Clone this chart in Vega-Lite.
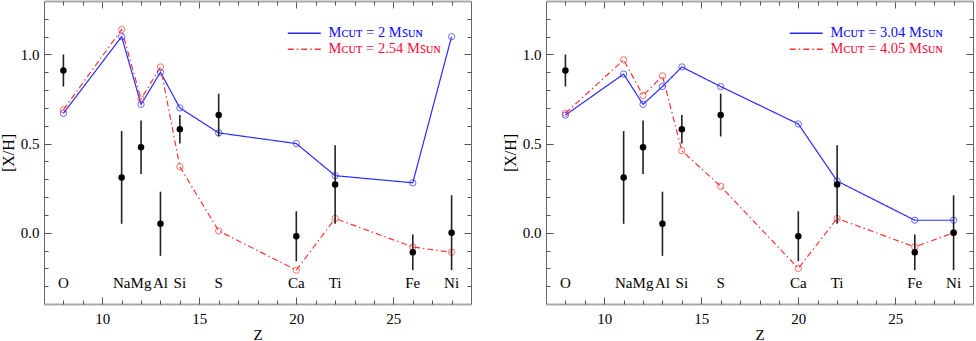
{
  "$schema": "https://vega.github.io/schema/vega-lite/v6.json",
  "padding": 0,
  "background": "white",
  "config": {
    "view": {"stroke": null},
    "font": "Liberation Serif",
    "axis": {"labelFont": "Liberation Serif", "titleFont": "Liberation Serif", "labelColor": "black", "titleColor": "black", "labelFontSize": 15, "titleFontSize": 16, "titleFontWeight": "normal", "grid": false, "tickColor": "#555", "tickWidth": 1},
    "legend": {"labelFont": "Liberation Serif", "labelFontSize": 14.5, "padding": 0}
  },
  "datasets": {
    "obs": [
      {"el": "O", "Z": 8, "XH": 0.91, "lo": 0.82, "hi": 1.0},
      {"el": "Na", "Z": 11, "XH": 0.31, "lo": 0.05, "hi": 0.57},
      {"el": "Mg", "Z": 12, "XH": 0.48, "lo": 0.33, "hi": 0.63},
      {"el": "Al", "Z": 13, "XH": 0.05, "lo": -0.13, "hi": 0.23},
      {"el": "Si", "Z": 14, "XH": 0.58, "lo": 0.5, "hi": 0.66},
      {"el": "S", "Z": 16, "XH": 0.66, "lo": 0.54, "hi": 0.78},
      {"el": "Ca", "Z": 20, "XH": -0.02, "lo": -0.16, "hi": 0.12},
      {"el": "Ti", "Z": 22, "XH": 0.27, "lo": 0.05, "hi": 0.49},
      {"el": "Fe", "Z": 26, "XH": -0.11, "lo": -0.21, "hi": -0.01},
      {"el": "Ni", "Z": 28, "XH": 0.0, "lo": -0.21, "hi": 0.21}
    ],
    "model": [
      {"panel": "L", "model": "Mᴄᴜᴛ = 2 Mꜱᴜɴ", "Z": 8, "XH": 0.67},
      {"panel": "L", "model": "Mᴄᴜᴛ = 2 Mꜱᴜɴ", "Z": 11, "XH": 1.10},
      {"panel": "L", "model": "Mᴄᴜᴛ = 2 Mꜱᴜɴ", "Z": 12, "XH": 0.72},
      {"panel": "L", "model": "Mᴄᴜᴛ = 2 Mꜱᴜɴ", "Z": 13, "XH": 0.90},
      {"panel": "L", "model": "Mᴄᴜᴛ = 2 Mꜱᴜɴ", "Z": 14, "XH": 0.70},
      {"panel": "L", "model": "Mᴄᴜᴛ = 2 Mꜱᴜɴ", "Z": 16, "XH": 0.56},
      {"panel": "L", "model": "Mᴄᴜᴛ = 2 Mꜱᴜɴ", "Z": 20, "XH": 0.50},
      {"panel": "L", "model": "Mᴄᴜᴛ = 2 Mꜱᴜɴ", "Z": 22, "XH": 0.32},
      {"panel": "L", "model": "Mᴄᴜᴛ = 2 Mꜱᴜɴ", "Z": 26, "XH": 0.28},
      {"panel": "L", "model": "Mᴄᴜᴛ = 2 Mꜱᴜɴ", "Z": 28, "XH": 1.10},
      {"panel": "L", "model": "Mᴄᴜᴛ = 2.54 Mꜱᴜɴ", "Z": 8, "XH": 0.69},
      {"panel": "L", "model": "Mᴄᴜᴛ = 2.54 Mꜱᴜɴ", "Z": 11, "XH": 1.14},
      {"panel": "L", "model": "Mᴄᴜᴛ = 2.54 Mꜱᴜɴ", "Z": 12, "XH": 0.75},
      {"panel": "L", "model": "Mᴄᴜᴛ = 2.54 Mꜱᴜɴ", "Z": 13, "XH": 0.93},
      {"panel": "L", "model": "Mᴄᴜᴛ = 2.54 Mꜱᴜɴ", "Z": 14, "XH": 0.37},
      {"panel": "L", "model": "Mᴄᴜᴛ = 2.54 Mꜱᴜɴ", "Z": 16, "XH": 0.01},
      {"panel": "L", "model": "Mᴄᴜᴛ = 2.54 Mꜱᴜɴ", "Z": 20, "XH": -0.21},
      {"panel": "L", "model": "Mᴄᴜᴛ = 2.54 Mꜱᴜɴ", "Z": 22, "XH": 0.08},
      {"panel": "L", "model": "Mᴄᴜᴛ = 2.54 Mꜱᴜɴ", "Z": 26, "XH": -0.08},
      {"panel": "L", "model": "Mᴄᴜᴛ = 2.54 Mꜱᴜɴ", "Z": 28, "XH": -0.11},
      {"panel": "R", "model": "Mᴄᴜᴛ = 3.04 Mꜱᴜɴ", "Z": 8, "XH": 0.66},
      {"panel": "R", "model": "Mᴄᴜᴛ = 3.04 Mꜱᴜɴ", "Z": 11, "XH": 0.89},
      {"panel": "R", "model": "Mᴄᴜᴛ = 3.04 Mꜱᴜɴ", "Z": 12, "XH": 0.72},
      {"panel": "R", "model": "Mᴄᴜᴛ = 3.04 Mꜱᴜɴ", "Z": 13, "XH": 0.82},
      {"panel": "R", "model": "Mᴄᴜᴛ = 3.04 Mꜱᴜɴ", "Z": 14, "XH": 0.93},
      {"panel": "R", "model": "Mᴄᴜᴛ = 3.04 Mꜱᴜɴ", "Z": 16, "XH": 0.82},
      {"panel": "R", "model": "Mᴄᴜᴛ = 3.04 Mꜱᴜɴ", "Z": 20, "XH": 0.61},
      {"panel": "R", "model": "Mᴄᴜᴛ = 3.04 Mꜱᴜɴ", "Z": 22, "XH": 0.29},
      {"panel": "R", "model": "Mᴄᴜᴛ = 3.04 Mꜱᴜɴ", "Z": 26, "XH": 0.07},
      {"panel": "R", "model": "Mᴄᴜᴛ = 3.04 Mꜱᴜɴ", "Z": 28, "XH": 0.07},
      {"panel": "R", "model": "Mᴄᴜᴛ = 4.05 Mꜱᴜɴ", "Z": 8, "XH": 0.67},
      {"panel": "R", "model": "Mᴄᴜᴛ = 4.05 Mꜱᴜɴ", "Z": 11, "XH": 0.97},
      {"panel": "R", "model": "Mᴄᴜᴛ = 4.05 Mꜱᴜɴ", "Z": 12, "XH": 0.77},
      {"panel": "R", "model": "Mᴄᴜᴛ = 4.05 Mꜱᴜɴ", "Z": 13, "XH": 0.88},
      {"panel": "R", "model": "Mᴄᴜᴛ = 4.05 Mꜱᴜɴ", "Z": 14, "XH": 0.46},
      {"panel": "R", "model": "Mᴄᴜᴛ = 4.05 Mꜱᴜɴ", "Z": 16, "XH": 0.26},
      {"panel": "R", "model": "Mᴄᴜᴛ = 4.05 Mꜱᴜɴ", "Z": 20, "XH": -0.20},
      {"panel": "R", "model": "Mᴄᴜᴛ = 4.05 Mꜱᴜɴ", "Z": 22, "XH": 0.08},
      {"panel": "R", "model": "Mᴄᴜᴛ = 4.05 Mꜱᴜɴ", "Z": 26, "XH": -0.08},
      {"panel": "R", "model": "Mᴄᴜᴛ = 4.05 Mꜱᴜɴ", "Z": 28, "XH": 0.00}
    ]
  },
  "spacing": 30,
  "resolve": {"scale": {"color": "independent", "strokeDash": "independent", "stroke": "independent"}, "legend": {"color": "independent", "strokeDash": "independent"}},
  "hconcat": [
    {
      "width": 427,
      "height": 303,
      "resolve": {"axis": {"x": "independent", "y": "independent"}},
      "layer": [
        {
          "data": {"name": "model"},
          "transform": [{"filter": "datum.panel == 'L'"}],
          "mark": {"type": "line", "strokeWidth": 1.2},
          "encoding": {
            "x": {"field": "Z", "type": "quantitative", "scale": {"domain": [7, 29], "nice": false, "zero": false},
              "axis": {"orient": "bottom", "values": [10, 15, 20, 25], "ticks": false, "domain": true, "domainColor": "#aaa", "domainWidth": 2, "labelPadding": 7, "title": "Z", "titlePadding": 1, "titleFontSize": 15}},
            "y": {"field": "XH", "type": "quantitative", "scale": {"domain": [-0.4, 1.3], "nice": false, "zero": false},
              "axis": {"orient": "left", "values": [0, 0.5, 1], "format": ".1f", "ticks": false, "domain": true, "domainColor": "#666", "domainWidth": 1, "labelPadding": 5, "title": "[X/H]", "titlePadding": 4}},
            "color": {"field": "model", "type": "nominal",
              "scale": {"domain": ["Mᴄᴜᴛ = 2 Mꜱᴜɴ", "Mᴄᴜᴛ = 2.54 Mꜱᴜɴ"], "range": ["#2a2aff", "#ff3535"]},
              "legend": {"title": null, "orient": "none", "legendX": 253, "legendY": 25, "symbolType": "M-3,0H3", "symbolSize": 121, "symbolStrokeWidth": 1.5, "labelOffset": 17, "rowPadding": 1, "labelFont": "Liberation Serif", "labelFontSize": 14.5, "labelColor": {"expr": "datum.index == 0 ? '#0d0dff' : '#ff0d3d'"}}},
            "strokeDash": {"field": "model", "type": "nominal",
              "scale": {"domain": ["Mᴄᴜᴛ = 2 Mꜱᴜɴ", "Mᴄᴜᴛ = 2.54 Mꜱᴜɴ"], "range": [[1, 0], [6, 3, 1.5, 3]]},
              "legend": {"title": null, "orient": "none", "legendX": 253, "legendY": 25, "symbolType": "M-3,0H3", "symbolSize": 121, "symbolStrokeWidth": 1.5, "labelOffset": 17, "rowPadding": 1, "labelFont": "Liberation Serif", "labelFontSize": 14.5, "labelColor": {"expr": "datum.index == 0 ? '#0d0dff' : '#ff0d3d'"}}}
          }
        },
        {
          "data": {"name": "model"},
          "transform": [{"filter": "datum.panel == 'L'"}],
          "mark": {"type": "point", "filled": false, "size": 40, "strokeWidth": 1},
          "encoding": {
            "x": {"field": "Z", "type": "quantitative", "scale": {"domain": [7, 29], "nice": false, "zero": false},
              "axis": {"orient": "bottom", "values": [10, 15, 20, 25], "labels": false, "domain": false, "tickSize": -7, "title": null}},
            "y": {"field": "XH", "type": "quantitative", "scale": {"domain": [-0.4, 1.3], "nice": false, "zero": false},
              "axis": {"orient": "left", "values": [0, 0.5, 1], "labels": false, "domain": false, "tickSize": -7, "title": null}},
            "stroke": {"field": "model", "type": "nominal",
              "scale": {"domain": ["Mᴄᴜᴛ = 2 Mꜱᴜɴ", "Mᴄᴜᴛ = 2.54 Mꜱᴜɴ"], "range": ["#2a2aff", "#ff3535"]}, "legend": null}
          }
        },
        {
          "data": {"name": "obs"},
          "mark": {"type": "rule", "color": "#222", "strokeWidth": 1.6},
          "encoding": {
            "x": {"field": "Z", "type": "quantitative", "scale": {"domain": [7, 29], "nice": false, "zero": false},
              "axis": {"orient": "bottom", "values": [8, 9, 11, 12, 13, 14, 16, 17, 18, 19, 21, 22, 23, 24, 26, 27, 28], "labels": false, "domain": false, "tickSize": -4, "title": null}},
            "y": {"field": "lo", "type": "quantitative", "scale": {"domain": [-0.4, 1.3], "nice": false, "zero": false},
              "axis": {"orient": "left", "values": [-0.3, -0.2, -0.1, 0.1, 0.2, 0.3, 0.4, 0.6, 0.7, 0.8, 0.9, 1.1, 1.2], "labels": false, "domain": false, "tickSize": -4, "title": null}},
            "y2": {"field": "hi"}
          }
        },
        {
          "data": {"name": "obs"},
          "mark": {"type": "circle", "color": "black", "size": 42, "opacity": 1},
          "encoding": {
            "x": {"field": "Z", "type": "quantitative", "scale": {"domain": [7, 29], "nice": false, "zero": false},
              "axis": {"orient": "top", "values": [10, 15, 20, 25], "labels": false, "domain": true, "domainColor": "#aaa", "domainWidth": 2, "tickSize": -7, "title": null}},
            "y": {"field": "XH", "type": "quantitative", "scale": {"domain": [-0.4, 1.3], "nice": false, "zero": false},
              "axis": {"orient": "right", "values": [0, 0.5, 1], "labels": false, "domain": true, "domainColor": "#666", "domainWidth": 1, "tickSize": -7, "title": null}}
          }
        },
        {
          "data": {"name": "obs"},
          "mark": {"type": "text", "font": "Liberation Serif", "fontSize": 15, "color": "black", "baseline": "middle", "align": "center"},
          "encoding": {
            "x": {"field": "Z", "type": "quantitative", "scale": {"domain": [7, 29], "nice": false, "zero": false},
              "axis": {"orient": "top", "values": [8, 9, 11, 12, 13, 14, 16, 17, 18, 19, 21, 22, 23, 24, 26, 27, 28], "labels": false, "domain": false, "tickSize": -4, "title": null}},
            "y": {"datum": -0.28, "type": "quantitative", "scale": {"domain": [-0.4, 1.3], "nice": false, "zero": false},
              "axis": {"orient": "right", "values": [-0.3, -0.2, -0.1, 0.1, 0.2, 0.3, 0.4, 0.6, 0.7, 0.8, 0.9, 1.1, 1.2], "labels": false, "domain": false, "tickSize": -4, "title": null}},
            "text": {"field": "el"}
          }
        }
      ]
    },
    {
      "width": 427,
      "height": 303,
      "resolve": {"axis": {"x": "independent", "y": "independent"}},
      "layer": [
        {
          "data": {"name": "model"},
          "transform": [{"filter": "datum.panel == 'R'"}],
          "mark": {"type": "line", "strokeWidth": 1.2},
          "encoding": {
            "x": {"field": "Z", "type": "quantitative", "scale": {"domain": [7, 29], "nice": false, "zero": false},
              "axis": {"orient": "bottom", "values": [10, 15, 20, 25], "ticks": false, "domain": true, "domainColor": "#aaa", "domainWidth": 2, "labelPadding": 7, "title": "Z", "titlePadding": 1, "titleFontSize": 15}},
            "y": {"field": "XH", "type": "quantitative", "scale": {"domain": [-0.4, 1.3], "nice": false, "zero": false},
              "axis": {"orient": "left", "values": [0, 0.5, 1], "format": ".1f", "ticks": false, "domain": true, "domainColor": "#666", "domainWidth": 1, "labelPadding": 5, "title": "[X/H]", "titlePadding": 4}},
            "color": {"field": "model", "type": "nominal",
              "scale": {"domain": ["Mᴄᴜᴛ = 3.04 Mꜱᴜɴ", "Mᴄᴜᴛ = 4.05 Mꜱᴜɴ"], "range": ["#2a2aff", "#ff3535"]},
              "legend": {"title": null, "orient": "none", "legendX": 253, "legendY": 25, "symbolType": "M-3,0H3", "symbolSize": 121, "symbolStrokeWidth": 1.5, "labelOffset": 17, "rowPadding": 1, "labelFont": "Liberation Serif", "labelFontSize": 14.5, "labelColor": {"expr": "datum.index == 0 ? '#0d0dff' : '#ff0d3d'"}}},
            "strokeDash": {"field": "model", "type": "nominal",
              "scale": {"domain": ["Mᴄᴜᴛ = 3.04 Mꜱᴜɴ", "Mᴄᴜᴛ = 4.05 Mꜱᴜɴ"], "range": [[1, 0], [6, 3, 1.5, 3]]},
              "legend": {"title": null, "orient": "none", "legendX": 253, "legendY": 25, "symbolType": "M-3,0H3", "symbolSize": 121, "symbolStrokeWidth": 1.5, "labelOffset": 17, "rowPadding": 1, "labelFont": "Liberation Serif", "labelFontSize": 14.5, "labelColor": {"expr": "datum.index == 0 ? '#0d0dff' : '#ff0d3d'"}}}
          }
        },
        {
          "data": {"name": "model"},
          "transform": [{"filter": "datum.panel == 'R'"}],
          "mark": {"type": "point", "filled": false, "size": 40, "strokeWidth": 1},
          "encoding": {
            "x": {"field": "Z", "type": "quantitative", "scale": {"domain": [7, 29], "nice": false, "zero": false},
              "axis": {"orient": "bottom", "values": [10, 15, 20, 25], "labels": false, "domain": false, "tickSize": -7, "title": null}},
            "y": {"field": "XH", "type": "quantitative", "scale": {"domain": [-0.4, 1.3], "nice": false, "zero": false},
              "axis": {"orient": "left", "values": [0, 0.5, 1], "labels": false, "domain": false, "tickSize": -7, "title": null}},
            "stroke": {"field": "model", "type": "nominal",
              "scale": {"domain": ["Mᴄᴜᴛ = 3.04 Mꜱᴜɴ", "Mᴄᴜᴛ = 4.05 Mꜱᴜɴ"], "range": ["#2a2aff", "#ff3535"]}, "legend": null}
          }
        },
        {
          "data": {"name": "obs"},
          "mark": {"type": "rule", "color": "#222", "strokeWidth": 1.6},
          "encoding": {
            "x": {"field": "Z", "type": "quantitative", "scale": {"domain": [7, 29], "nice": false, "zero": false},
              "axis": {"orient": "bottom", "values": [8, 9, 11, 12, 13, 14, 16, 17, 18, 19, 21, 22, 23, 24, 26, 27, 28], "labels": false, "domain": false, "tickSize": -4, "title": null}},
            "y": {"field": "lo", "type": "quantitative", "scale": {"domain": [-0.4, 1.3], "nice": false, "zero": false},
              "axis": {"orient": "left", "values": [-0.3, -0.2, -0.1, 0.1, 0.2, 0.3, 0.4, 0.6, 0.7, 0.8, 0.9, 1.1, 1.2], "labels": false, "domain": false, "tickSize": -4, "title": null}},
            "y2": {"field": "hi"}
          }
        },
        {
          "data": {"name": "obs"},
          "mark": {"type": "circle", "color": "black", "size": 42, "opacity": 1},
          "encoding": {
            "x": {"field": "Z", "type": "quantitative", "scale": {"domain": [7, 29], "nice": false, "zero": false},
              "axis": {"orient": "top", "values": [10, 15, 20, 25], "labels": false, "domain": true, "domainColor": "#aaa", "domainWidth": 2, "tickSize": -7, "title": null}},
            "y": {"field": "XH", "type": "quantitative", "scale": {"domain": [-0.4, 1.3], "nice": false, "zero": false},
              "axis": {"orient": "right", "values": [0, 0.5, 1], "labels": false, "domain": true, "domainColor": "#666", "domainWidth": 1, "tickSize": -7, "title": null}}
          }
        },
        {
          "data": {"name": "obs"},
          "mark": {"type": "text", "font": "Liberation Serif", "fontSize": 15, "color": "black", "baseline": "middle", "align": "center"},
          "encoding": {
            "x": {"field": "Z", "type": "quantitative", "scale": {"domain": [7, 29], "nice": false, "zero": false},
              "axis": {"orient": "top", "values": [8, 9, 11, 12, 13, 14, 16, 17, 18, 19, 21, 22, 23, 24, 26, 27, 28], "labels": false, "domain": false, "tickSize": -4, "title": null}},
            "y": {"datum": -0.28, "type": "quantitative", "scale": {"domain": [-0.4, 1.3], "nice": false, "zero": false},
              "axis": {"orient": "right", "values": [-0.3, -0.2, -0.1, 0.1, 0.2, 0.3, 0.4, 0.6, 0.7, 0.8, 0.9, 1.1, 1.2], "labels": false, "domain": false, "tickSize": -4, "title": null}},
            "text": {"field": "el"}
          }
        }
      ]
    }
  ]
}
